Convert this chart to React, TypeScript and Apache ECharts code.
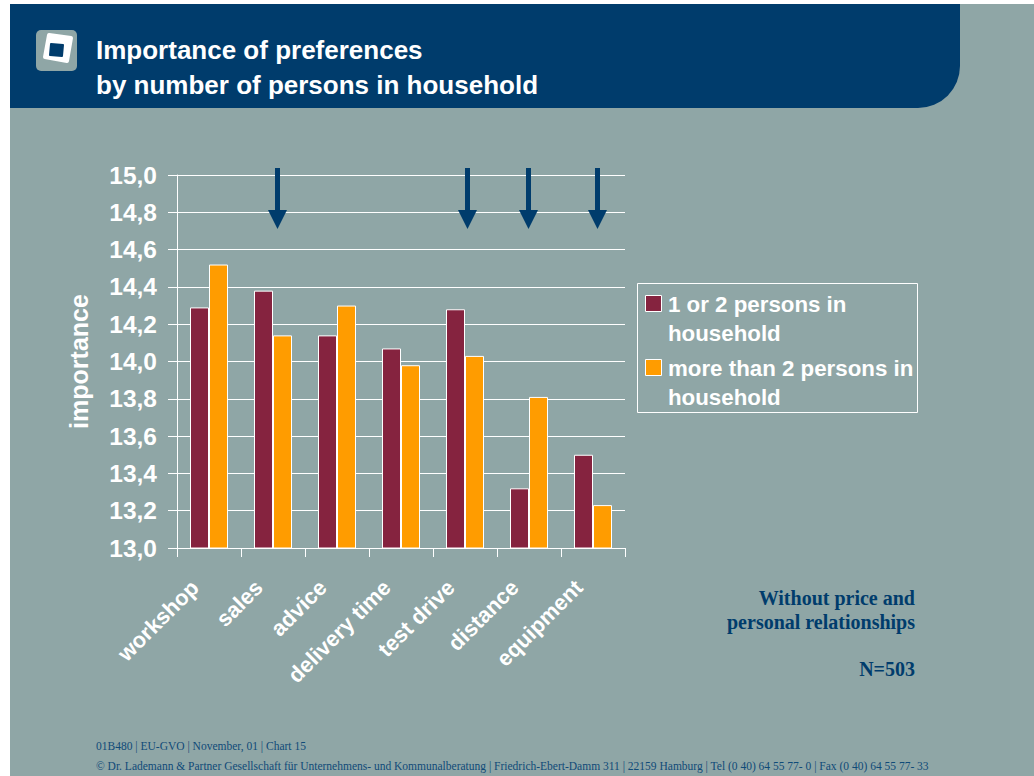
import React, { useEffect, useRef } from "react";
import * as echarts from "echarts";

const categories = ["workshop", "sales", "advice", "delivery time", "test drive", "distance", "equipment"];
const smallHousehold = [14.29, 14.38, 14.14, 14.07, 14.28, 13.32, 13.5];
const largeHousehold = [14.52, 14.14, 14.3, 13.98, 14.03, 13.81, 13.23];
const seriesNames = ["1 or 2 persons in\nhousehold", "more than 2 persons in\nhousehold"];
const titleLines = "Importance of preferences\nby number of persons in household";
const arrowX = [277.5, 467.5, 528.5, 597.5];
const footer1 = "01B480 | EU-GVO | November, 01 | Chart 15";
const footer2 = "© Dr. Lademann & Partner Gesellschaft für Unternehmens- und Kommunalberatung | Friedrich-Ebert-Damm 311 | 22159 Hamburg | Tel (0 40) 64 55 77- 0 | Fax (0 40) 64 55 77- 33";

const BG = "#8FA6A6";
const NAVY = "#003C6C";
const MAROON = "#85233F";
const ORANGE = "#FF9C00";
const SANS = '"Liberation Sans", Arial, sans-serif';
const SERIF = '"Liberation Serif", "Times New Roman", serif';

export default function App() {
  const ref = useRef<HTMLDivElement>(null);
  useEffect(() => {
    const chart = echarts.init(ref.current!, undefined, { renderer: "svg" });
    const barStyle = (color: string) => ({ color, borderColor: "#fff", borderWidth: 1 });
    chart.setOption({
      animation: false,
      backgroundColor: "#fff",
      grid: { left: 177, top: 175, width: 448, height: 373, containLabel: false },
      xAxis: {
        type: "category",
        data: categories,
        axisLine: { lineStyle: { color: "#fff", width: 1 } },
        axisTick: { show: true, length: 9, alignWithLabel: false, lineStyle: { color: "#fff" } },
        axisLabel: {
          rotate: 45, interval: 0, color: "#fff", fontFamily: SANS, fontWeight: "bold", fontSize: 22,
          margin: 50, verticalAlign: "bottom", lineHeight: 40,
        },
      },
      yAxis: {
        type: "value",
        min: 13,
        max: 15,
        interval: 0.2,
        name: "importance",
        nameLocation: "middle",
        nameGap: 86,
        nameRotate: 90,
        nameTextStyle: { color: "#fff", fontFamily: SANS, fontWeight: "bold", fontSize: 25 },
        axisLine: { show: true, lineStyle: { color: "#fff", width: 1 } },
        axisTick: { show: true, length: 9, lineStyle: { color: "#fff" } },
        splitLine: { show: true, lineStyle: { color: "#fff", width: 1 } },
        axisLabel: {
          color: "#fff", fontFamily: SANS, fontWeight: "bold", fontSize: 24.5, margin: 20,
          formatter: (v: number) => v.toFixed(1).replace(".", ","),
        },
      },
      series: [
        { name: seriesNames[0], type: "bar", data: smallHousehold, barWidth: 19, barGap: "0%", itemStyle: barStyle(MAROON) },
        { name: seriesNames[1], type: "bar", data: largeHousehold, barWidth: 19, barGap: "0%", itemStyle: barStyle(ORANGE) },
      ],
      graphic: [
        { type: "rect", z: -10, silent: true, shape: { x: 10, y: 4, width: 1024, height: 772 }, style: { fill: BG } },
        { type: "rect", z: -8, silent: true, shape: { x: 10, y: 4, width: 950, height: 104, r: [0, 0, 42, 0] }, style: { fill: NAVY } },
        { type: "rect", z: 5, shape: { x: 36, y: 30, width: 41, height: 41, r: 5 }, style: { fill: BG } },
        { type: "polygon", z: 6, shape: { points: [[49, 35], [71, 38], [67, 61], [45, 57]] }, style: { fill: "#fff", stroke: "#fff", lineWidth: 4, lineJoin: "round" } },
        { type: "polygon", z: 7, shape: { points: [[51, 44], [63, 45], [62, 56], [50, 55]] }, style: { fill: NAVY, stroke: NAVY, lineWidth: 2, lineJoin: "round" } },
        {
          type: "text", z: 7, x: 96, y: 32,
          style: { text: titleLines, fill: "#fff", font: `bold 26px ${SANS}`, lineHeight: 35 },
        },
        ...arrowX.flatMap((x) => [
          { type: "rect", z: 20, shape: { x: x - 2.5, y: 168, width: 5, height: 43 }, style: { fill: NAVY } },
          { type: "polygon", z: 20, shape: { points: [[x - 9.5, 210], [x + 9.5, 210], [x, 229]] }, style: { fill: NAVY } },
        ]),
        { type: "rect", z: 10, shape: { x: 637.5, y: 283.5, width: 280, height: 129 }, style: { fill: "transparent", stroke: "#fff", lineWidth: 1 } },
        { type: "rect", z: 11, shape: { x: 645.5, y: 295.5, width: 16, height: 16 }, style: { fill: MAROON, stroke: "#fff", lineWidth: 1 } },
        { type: "rect", z: 11, shape: { x: 645.5, y: 359.5, width: 16, height: 16 }, style: { fill: ORANGE, stroke: "#fff", lineWidth: 1 } },
        { type: "text", z: 11, x: 668, y: 290, style: { text: seriesNames[0], fill: "#fff", font: `bold 22.3px ${SANS}`, lineHeight: 29 } },
        { type: "text", z: 11, x: 668, y: 354, style: { text: seriesNames[1], fill: "#fff", font: `bold 22.3px ${SANS}`, lineHeight: 29 } },
        { type: "text", z: 11, x: 915, y: 586, style: { text: "Without price and\npersonal relationships", fill: NAVY, align: "right", font: `bold 20px ${SERIF}`, lineHeight: 24 } },
        { type: "text", z: 11, x: 915, y: 659, style: { text: "N=503", fill: NAVY, align: "right", font: `bold 20px ${SERIF}` } },
        { type: "text", z: 11, x: 96, y: 740, style: { text: footer1, fill: "#0F4A78", font: `11.5px ${SERIF}` } },
        { type: "text", z: 11, x: 96, y: 760, style: { text: footer2, fill: "#0F4A78", font: `11.5px ${SERIF}` } },
      ],
    });
    return () => chart.dispose();
  }, []);
  return <div ref={ref} style={{ position: "fixed", left: 0, top: 0, width: 1034, height: 776 }} />;
}
